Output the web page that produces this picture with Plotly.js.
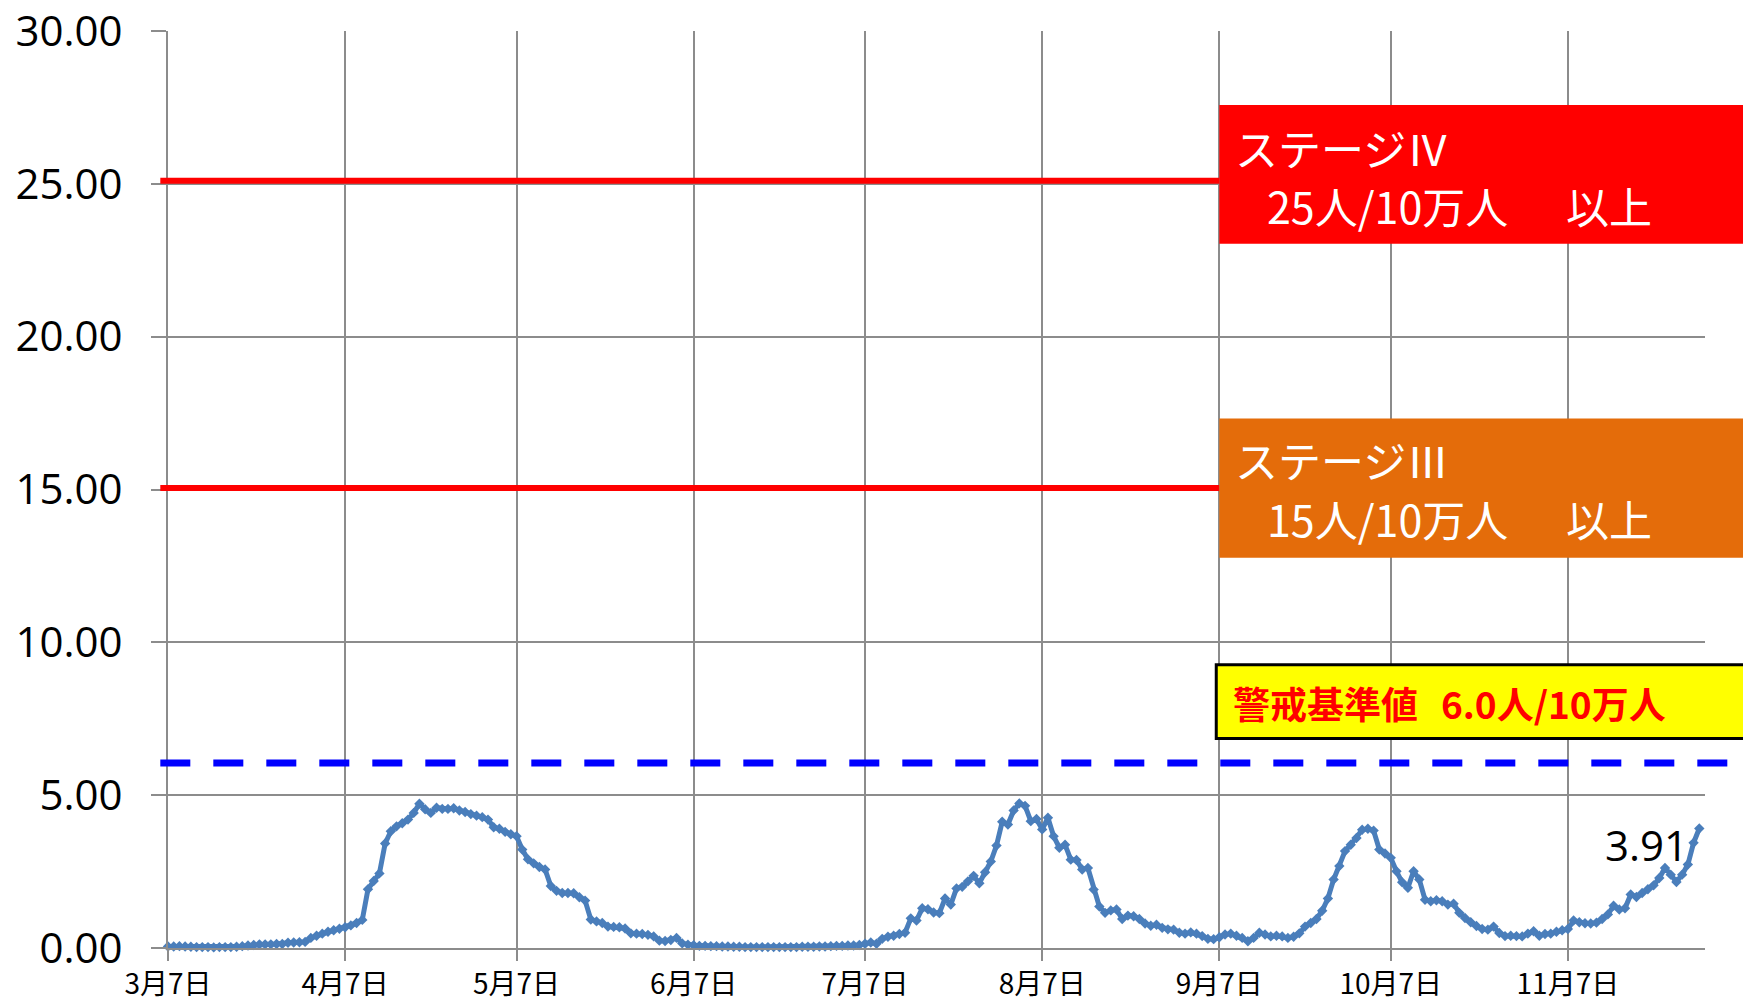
<!DOCTYPE html>
<html>
<head>
<meta charset="utf-8">
<script src="https://cdn.plot.ly/plotly-3.0.1.min.js"></script>
<style>html,body{margin:0;padding:0;background:#fff;}#chart{width:1743px;height:1004px;}</style>
</head>
<body>
<div id="chart"></div>
<script>
// ---- data (daily values, per 100k people) ----
const startDate = '2020-03-07';
const mar = [0.05,0.05,0.06,0.05,0.04,0.03,0.03,0.03,0.02,0.03,0.03,0.03,0.04,0.06,0.08,0.10,0.12,0.12,0.12,0.13,0.13,0.17,0.18,0.19,0.20];
const apr = [0.33,0.40,0.47,0.53,0.58,0.63,0.68,0.74,0.82,0.92,1.92,2.19,2.44,3.42,3.82,3.98,4.08,4.20,4.42,4.72,4.54,4.42,4.59,4.55,4.55,4.57,4.50,4.45,4.38,4.33];
const may = [4.28,4.20,3.95,3.90,3.80,3.72,3.66,3.22,2.90,2.77,2.65,2.57,2.03,1.87,1.80,1.80,1.79,1.66,1.55,0.93,0.87,0.82,0.70,0.69,0.68,0.64,0.48,0.47,0.46,0.43,0.38];
const jun = [0.24,0.23,0.26,0.33,0.15,0.11,0.09,0.07,0.07,0.06,0.06,0.05,0.05,0.04,0.04,0.03,0.03,0.03,0.03,0.03,0.03,0.03,0.03,0.03,0.03,0.04,0.04,0.04,0.05,0.05];
const jul = [0.06,0.07,0.07,0.08,0.08,0.10,0.14,0.18,0.14,0.30,0.37,0.40,0.46,0.50,0.97,0.90,1.30,1.27,1.16,1.14,1.62,1.42,1.95,2.00,2.18,2.36,2.12,2.48,2.83,3.35,4.13];
const aug = [4.04,4.50,4.73,4.65,4.15,4.22,3.88,4.26,3.66,3.28,3.38,2.89,2.88,2.57,2.62,1.91,1.36,1.15,1.23,1.26,0.95,1.06,1.04,0.95,0.80,0.73,0.76,0.66,0.61,0.60,0.50];
const sep = [0.47,0.51,0.47,0.39,0.30,0.29,0.35,0.44,0.47,0.40,0.33,0.22,0.33,0.50,0.44,0.38,0.40,0.38,0.33,0.37,0.48,0.70,0.82,0.95,1.22,1.62,2.24,2.68,3.17,3.38];
const oct = [3.60,3.87,3.90,3.84,3.22,3.09,2.95,2.51,2.15,1.97,2.51,2.24,1.58,1.53,1.56,1.53,1.42,1.45,1.15,0.98,0.84,0.72,0.62,0.60,0.70,0.49,0.39,0.40,0.39,0.38,0.47];
const nov = [0.55,0.40,0.46,0.47,0.53,0.58,0.62,0.90,0.84,0.81,0.80,0.83,0.95,1.10,1.38,1.26,1.30,1.75,1.67,1.80,1.92,2.05,2.29,2.62,2.40,2.16,2.40,2.73,3.44,3.91];

const tickDates  = ['2020-03-07','2020-04-07','2020-05-07','2020-06-07','2020-07-07','2020-08-07','2020-09-07','2020-10-07','2020-11-07'];
const tickLabels = ['3月7日','4月7日','5月7日','6月7日','7月7日','8月7日','9月7日','10月7日','11月7日'];

const stage4Value = 25;
const stage3Value = 15;
const alertValue = 6.0;
const stage4Lines = ['ステージⅣ', '25人/10万人', '以上'];
const stage3Lines = ['ステージⅢ', '15人/10万人', '以上'];
const alertLines = ['警戒基準値', '6.0人/10万人'];
const lineStartDate = '2020-09-07';

// ---- build ----
const values = [].concat(mar, apr, may, jun, jul, aug, sep, oct, nov);
const base = Date.parse(startDate + 'T00:00:00Z');
const dates = values.map((_, i) => new Date(base + i * 86400000).toISOString().slice(0, 10));
const xRange = ['2020-03-07', '2020-12-01'];
const r0 = Date.parse(xRange[0]), r1 = Date.parse(xRange[1]);
const paperX = d => (Date.parse(d) - r0) / (r1 - r0);
const boxLeft = paperX(lineStartDate);
const jp = '"Noto Sans CJK JP", "Noto Sans", sans-serif';

const trace = {
  type: 'scatter', mode: 'lines+markers', x: dates, y: values,
  line: {color: '#4A7EBB', width: 5},
  marker: {symbol: 'diamond', size: 8, color: '#4A7EBB'},
  hoverinfo: 'skip', showlegend: false, cliponaxis: false
};

const shapes = [
  {type: 'line', xref: 'paper', yref: 'y', x0: -0.005, x1: boxLeft, y0: stage4Value + 0.1, y1: stage4Value + 0.1, line: {color: '#FF0000', width: 6}, layer: 'above'},
  {type: 'line', xref: 'paper', yref: 'y', x0: -0.005, x1: boxLeft, y0: stage3Value + 0.05, y1: stage3Value + 0.05, line: {color: '#FF0000', width: 6}, layer: 'above'},
  {type: 'line', xref: 'paper', yref: 'y', x0: -0.005, x1: 1.03, y0: alertValue + 0.05, y1: alertValue + 0.05, line: {color: '#0000FF', width: 7, dash: '30px,23px'}, layer: 'above'},
  {type: 'rect', xref: 'paper', yref: 'y', x0: boxLeft, x1: 1.05, y0: 23.04, y1: 27.58, fillcolor: '#FF0000', line: {width: 0}, layer: 'above'},
  {type: 'rect', xref: 'paper', yref: 'y', x0: boxLeft, x1: 1.05, y0: 12.77, y1: 17.32, fillcolor: '#E46C0A', line: {width: 0}, layer: 'above'},
  {type: 'rect', xref: 'paper', yref: 'y', x0: boxLeft - 0.002, x1: 1.05, y0: 6.85, y1: 9.27, fillcolor: '#FFFF00', line: {color: '#000000', width: 3}, layer: 'above'}
];

const ann = (text, y, xshift, font) => ({
  text, xref: 'paper', yref: 'y', x: boxLeft, y, xanchor: 'left', yanchor: 'middle',
  xshift, showarrow: false, font
});
const whiteFont = {family: jp, size: 43, color: '#FFFFFF'};
const redBold = {family: jp, size: 37, color: '#FF0000', weight: 'bold'};
const lastIdx = values.length - 1;

const annotations = [
  ann(stage4Lines[0], 26.21, 14, whiteFont),
  ann(stage4Lines[1], 24.31, 46, whiteFont),
  ann(stage4Lines[2], 24.31, 345, whiteFont),
  ann(stage3Lines[0], 16.01, 14, whiteFont),
  ann(stage3Lines[1], 14.08, 46, whiteFont),
  ann(stage3Lines[2], 14.08, 345, whiteFont),
  ann('<b>' + alertLines[0] + '</b>', 8.03, 12, redBold),
  ann('<b>' + alertLines[1] + '</b>', 8.03, 220, redBold),
  {text: values[lastIdx].toFixed(2), x: dates[lastIdx], y: values[lastIdx], xref: 'x', yref: 'y',
   xanchor: 'right', yanchor: 'middle', xshift: -9, yshift: -16, showarrow: false,
   font: {family: '"Open Sans", sans-serif', size: 42, color: '#000000'}}
];

const layout = {
  width: 1743, height: 1004,
  margin: {l: 168, r: 38, t: 31, b: 56, pad: 0},
  paper_bgcolor: '#FFFFFF', plot_bgcolor: '#FFFFFF',
  font: {family: '"Open Sans", sans-serif', color: '#000000'},
  showlegend: false,
  xaxis: {
    type: 'date', range: xRange, tickmode: 'array', tickvals: tickDates, ticktext: tickLabels,
    showgrid: true, gridcolor: '#8C8C8C', gridwidth: 2,
    showline: true, linecolor: '#8C8C8C', linewidth: 2,
    ticks: 'outside', ticklen: 11, tickwidth: 2, tickcolor: '#8C8C8C',
    ticklabelstandoff: -1,
    tickfont: {family: jp, size: 28, color: '#000000'}, zeroline: false, fixedrange: true
  },
  yaxis: {
    range: [0, 30], tickmode: 'linear', tick0: 0, dtick: 5, tickformat: '.2f',
    showgrid: true, gridcolor: '#8C8C8C', gridwidth: 2,
    showline: true, linecolor: '#8C8C8C', linewidth: 2,
    ticks: 'outside', ticklen: 15, tickwidth: 2, tickcolor: '#8C8C8C',
    ticklabelstandoff: 20,
    tickfont: {family: '"Open Sans", sans-serif', size: 42, color: '#000000'}, zeroline: false, fixedrange: true
  },
  shapes, annotations
};

Plotly.newPlot('chart', [trace], layout, {displayModeBar: false, staticPlot: true});
</script>
</body>
</html>
